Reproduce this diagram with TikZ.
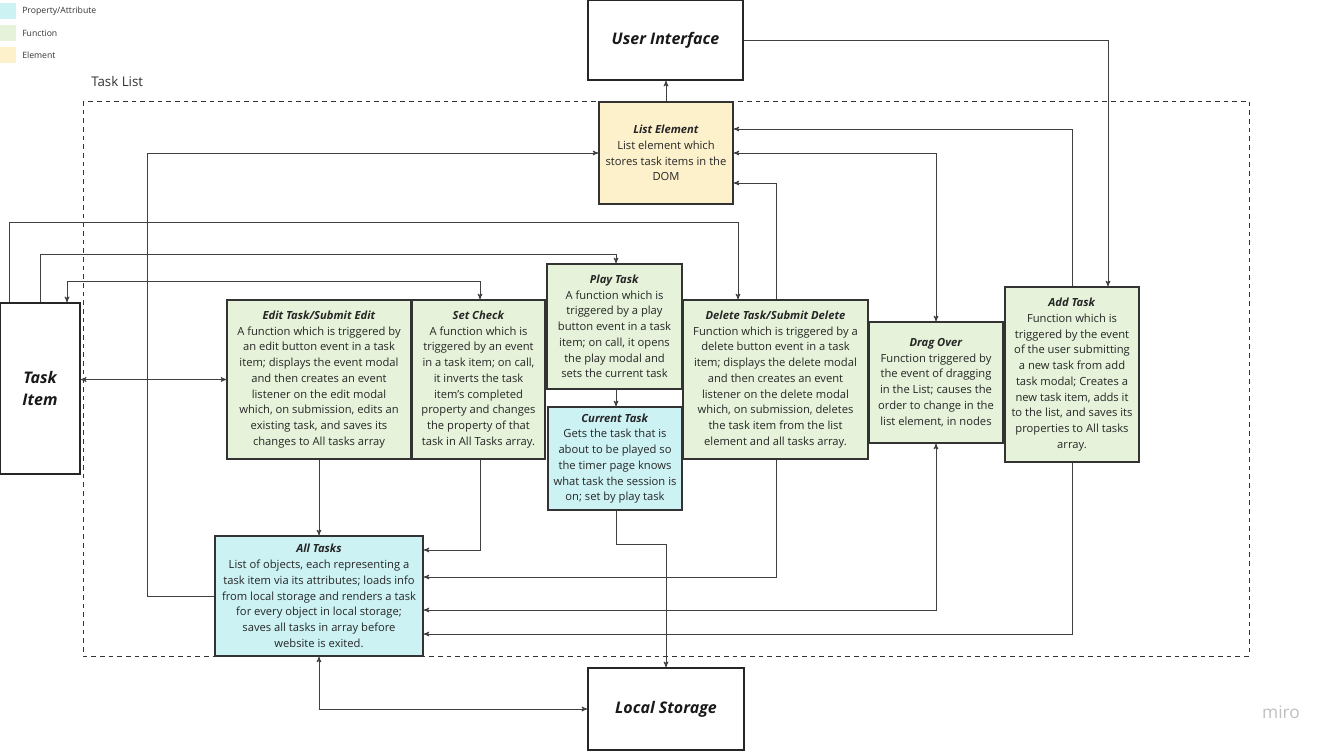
\documentclass[tikz,border=0pt]{standalone}
\usepackage{fontspec}
\setmainfont{Open Sans}
\usepackage{xcolor}
\usepackage{tikz}
\usetikzlibrary{arrows}

\definecolor{funcgreen}{HTML}{E6F3DA}
\definecolor{propcyan}{HTML}{CDF2F4}
\definecolor{elemyellow}{HTML}{FDF1CC}
\newcommand{\boxtitle}[1]{\textbf{\textit{#1}}}

\begin{document}
\begin{tikzpicture}[x=0.75pt,y=-0.75pt,>=stealth',
	box/.style={draw=black!80,line width=0.9pt,align=center,inner sep=2pt,text=black!85,font=\fontsize{8.4}{11.8}\selectfont},
	func/.style={box,fill=funcgreen},
	prop/.style={box,fill=propcyan},
	elem/.style={box,fill=elemyellow},
	outer/.style={draw=black!85,line width=1pt,fill=white,align=center,text=black!90,font=\fontsize{12}{16.5}\selectfont\bfseries\itshape},
	link/.style={draw=black!75,line width=0.6pt},
	keytext/.style={anchor=west,inner sep=0pt,text=black!80,font=\fontsize{6.5}{7.5}\selectfont}]
	\useasboundingbox (0,0) rectangle (1333,750);
	
	% legend
	\fill[propcyan] (0,3) rectangle (16,19);
	\fill[funcgreen] (0,25) rectangle (16,41);
	\fill[elemyellow] (0,47) rectangle (16,63);
	\node[keytext] (kprop) at (22,11) {Property/Attribute};
	\node[keytext] (kfunc) at (22,33) {Function};
	\node[keytext] (kelem) at (22,55) {Element};
	
	% task list frame
	\draw[dashed,black!80,line width=0.6pt,dash pattern=on 3.5pt off 3pt] (83,101) rectangle (1249,656);
	\node[anchor=west,inner sep=0pt,text=black!80,font=\fontsize{10}{12}\selectfont] (tlist) at (91,81) {Task List};
	
	\node[outer,minimum width=116.25pt,minimum height=60pt] (ui) at (665.5,40) {User Interface};
	\node[outer,minimum width=117pt,minimum height=61.5pt] (store) at (666,709) {Local Storage};
	\node[outer,minimum width=60pt,minimum height=128.25pt] (item) at (40,388.5) {Task\\Item};
	
	\node[elem,minimum width=100.5pt,minimum height=76.5pt] (listel) at (666,153)
	{\boxtitle{List Element}\\List element which\\stores task items in the\\DOM};
	\node[func,minimum width=138pt,minimum height=119.25pt] (edit) at (319,379.5)
	{\boxtitle{Edit Task/Submit Edit}\\A function which is triggered by\\an edit button event in a task\\item; displays the event modal\\and then creates an event\\listener on the edit modal\\which, on submission, edits an\\existing task, and saves its\\changes to All tasks array};
	\node[func,minimum width=99.75pt,minimum height=119.25pt] (check) at (478.5,379.5)
	{\boxtitle{Set Check}\\A function which is\\triggered by an event\\in a task item; on call,\\it inverts the task\\item's completed\\property and changes\\the property of that\\task in All Tasks array.};
	\node[func,minimum width=101.25pt,minimum height=93.75pt] (play) at (614.5,326.5)
	{\boxtitle{Play Task}\\A function which is\\triggered by a play\\button event in a task\\item; on call, it opens\\the play modal and\\sets the current task};
	\node[prop,minimum width=100.5pt,minimum height=77.25pt] (current) at (615,458.5)
	{\boxtitle{Current Task}\\Gets the task that is\\about to be played so\\the timer page knows\\what task the session is\\on; set by play task};
	\node[func,minimum width=138.75pt,minimum height=119.25pt] (delete) at (775.5,379.5)
	{\boxtitle{Delete Task/Submit Delete}\\Function which is triggered by a\\delete button event in a task\\item; displays the delete modal\\and then creates an event\\listener on the delete modal\\which, on submission, deletes\\the task item from the list\\element and all tasks array.};
	\node[func,minimum width=100.5pt,minimum height=90.75pt] (drag) at (936,382.5)
	{\boxtitle{Drag Over}\\Function triggered by\\the event of dragging\\in the List; causes the\\order to change in the\\list element, in nodes};
	\node[func,minimum width=100.5pt,minimum height=131.25pt] (add) at (1072,374.5)
	{\boxtitle{Add Task}\\Function which is\\triggered by the event\\of the user submitting\\a new task from add\\task modal; Creates a\\new task item, adds it\\to the list, and saves its\\properties to All tasks\\array.};
	\node[prop,minimum width=156pt,minimum height=90pt] (all) at (319,596)
	{\boxtitle{All Tasks}\\List of objects, each representing a\\task item via its attributes; loads info\\from local storage and renders a task\\for every object in local storage;\\saves all tasks in array before\\website is exited.};
	
	\node[text=black!25,font=\fontsize{13}{15}\selectfont] (miro) at (1281,712) {miro};
	
	% connectors
	\draw[link,->] (listel.north) -- (listel.north |- ui.south);
	\draw[link,->] (ui.east) -| (add.north -| 1108,0);
	\draw[link,->] (all.west) -- ++(-67,0) |- (listel.west);
	\draw[link,->] (item.north -| 9,0) -- (9,222) -| (delete.north -| 738,0);
	\draw[link,->] (item.north -| 40,0) -- (40,254) -| (play.north -| 616,0);
	\draw[link,<->] (item.north -| 67,0) -- (67,281) -| (check.north -| 480,0);
	\draw[link,<->] (item.east |- edit.west) -- (edit.west);
	\draw[link,->] (edit.south) -- (all.north);
	\draw[link,->] (check.south -| 480,0) |- (all.east |- 0,550);
	\draw[link,->] (play.south -| 616,0) -- (current.north -| 616,0);
	\draw[link,->] (current.south -| 616,0) -- (616,544) -| (store.north);
	\draw[link,->] (delete.south -| 776,0) |- (all.east |- 0,577);
	\draw[link,->] (delete.north -| 776,0) |- (listel.east |- 0,183);
	\draw[link,<->] (listel.east) -| (drag.north);
	\draw[link,<->] (drag.south) |- (all.east |- 0,610);
	\draw[link,->] (add.north) |- (listel.east |- 0,129);
	\draw[link,->] (add.south) |- (all.east |- 0,634);
	\draw[link,<->] (all.south) |- (store.west);
\end{tikzpicture}
\end{document}
